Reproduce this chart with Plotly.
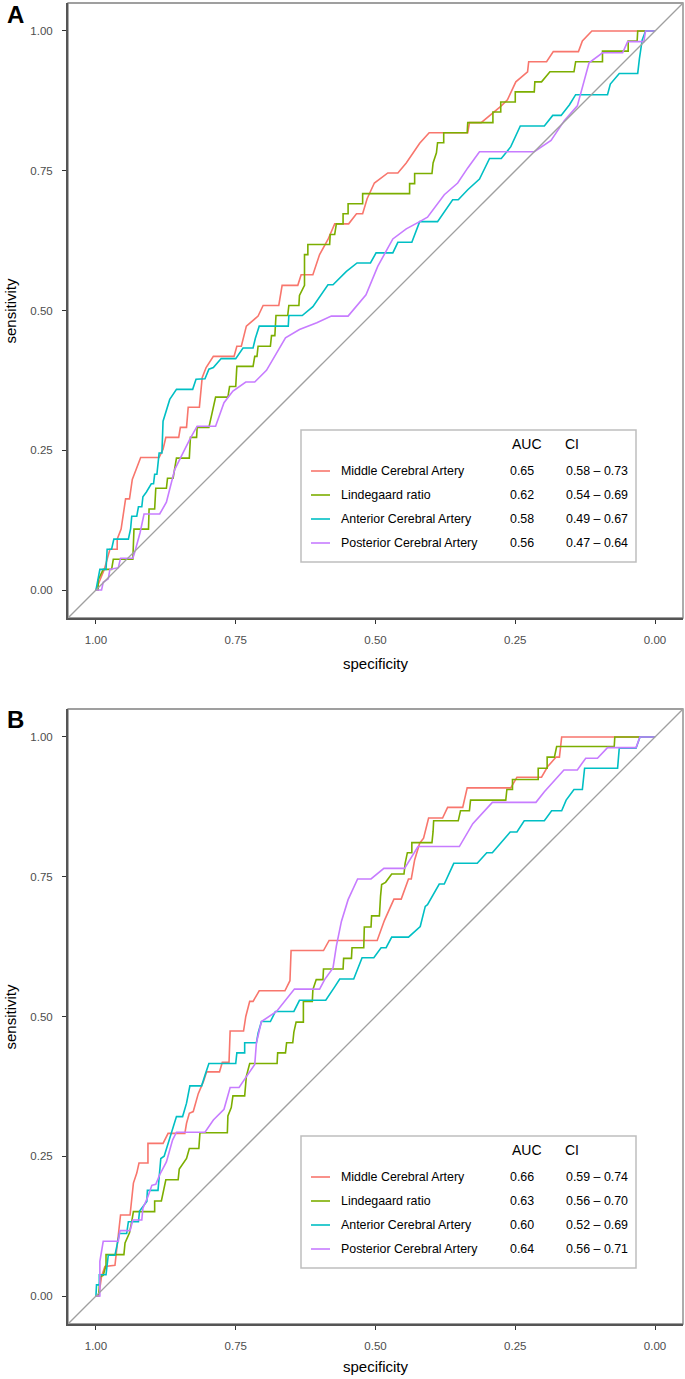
import plotly.graph_objects as go

W, H = 685, 1379

curve_names = ["Middle Cerebral Artery", "Lindegaard ratio",
               "Anterior Cerebral Artery", "Posterior Cerebral Artery"]
curve_colors = ["#F8766D", "#7CAE00", "#00BFC4", "#C77CFF"]

# ---------------- Panel A : (specificity, sensitivity) ----------------
a_mca = [(1.000,0.000),(0.985,0.037),(0.980,0.055),(0.975,0.073),(0.962,0.073),(0.962,0.091),
         (0.955,0.109),(0.950,0.145),(0.947,0.163),(0.940,0.163),(0.935,0.198),(0.928,0.216),
         (0.920,0.237),(0.887,0.237),(0.880,0.252),(0.875,0.273),(0.852,0.273),(0.849,0.291),
         (0.838,0.291),(0.835,0.327),(0.815,0.327),(0.810,0.380),(0.803,0.398),(0.790,0.418),
         (0.753,0.418),(0.748,0.436),(0.740,0.436),(0.731,0.472),(0.710,0.490),(0.701,0.509),
         (0.673,0.509),(0.667,0.545),(0.639,0.545),(0.633,0.564),(0.612,0.564),(0.600,0.600),
         (0.585,0.627),(0.573,0.655),(0.548,0.655),(0.534,0.673),(0.523,0.673),(0.515,0.700),
         (0.502,0.728),(0.478,0.746),(0.460,0.746),(0.445,0.764),(0.421,0.799),(0.404,0.818),
         (0.335,0.818),(0.332,0.836),(0.311,0.836),(0.276,0.865),(0.264,0.877),(0.249,0.909),
         (0.228,0.927),(0.226,0.945),(0.194,0.945),(0.182,0.963),(0.137,0.963),(0.130,0.982),
         (0.113,1.000),(0.000,1.000)]
a_lr = [(1.000,0.000),(0.996,0.000),(0.996,0.018),(0.987,0.037),(0.972,0.037),(0.969,0.055),
        (0.934,0.055),(0.932,0.109),(0.906,0.109),(0.905,0.145),(0.895,0.145),(0.893,0.182),
        (0.874,0.182),(0.872,0.200),(0.862,0.200),(0.859,0.218),(0.856,0.236),(0.833,0.236),
        (0.831,0.273),(0.820,0.273),(0.819,0.291),(0.798,0.291),(0.790,0.327),(0.786,0.345),
        (0.764,0.345),(0.761,0.364),(0.750,0.364),(0.748,0.400),(0.719,0.400),(0.716,0.418),
        (0.712,0.418),(0.710,0.436),(0.688,0.436),(0.686,0.455),(0.680,0.455),(0.678,0.491),
        (0.657,0.491),(0.655,0.509),(0.637,0.509),(0.636,0.527),(0.627,0.545),(0.627,0.600),
        (0.621,0.600),(0.621,0.618),(0.582,0.618),(0.581,0.636),(0.573,0.636),(0.570,0.655),
        (0.558,0.655),(0.558,0.673),(0.549,0.673),(0.549,0.691),(0.523,0.691),(0.523,0.709),
        (0.439,0.709),(0.439,0.727),(0.430,0.727),(0.430,0.745),(0.399,0.745),(0.397,0.764),
        (0.391,0.782),(0.389,0.800),(0.378,0.800),(0.378,0.818),(0.336,0.818),(0.335,0.836),
        (0.290,0.836),(0.290,0.855),(0.276,0.855),(0.276,0.873),(0.250,0.873),(0.250,0.891),
        (0.216,0.891),(0.215,0.909),(0.203,0.909),(0.188,0.927),(0.145,0.927),(0.142,0.945),
        (0.094,0.945),(0.094,0.964),(0.048,0.964),(0.048,0.982),(0.032,0.982),(0.031,1.000),
        (0.000,1.000)]
a_aca = [(1.000,0.000),(0.993,0.037),(0.982,0.037),(0.980,0.073),(0.972,0.073),(0.968,0.091),
         (0.942,0.091),(0.938,0.110),(0.936,0.132),(0.927,0.132),(0.924,0.149),(0.918,0.149),
         (0.916,0.167),(0.910,0.175),(0.901,0.190),(0.897,0.190),(0.895,0.207),(0.891,0.207),
         (0.887,0.245),(0.882,0.245),(0.880,0.302),(0.875,0.320),(0.868,0.341),(0.856,0.359),
         (0.827,0.359),(0.821,0.377),(0.805,0.378),(0.798,0.395),(0.790,0.398),(0.776,0.414),
         (0.750,0.414),(0.737,0.433),(0.719,0.433),(0.715,0.450),(0.708,0.472),(0.656,0.472),
         (0.655,0.491),(0.631,0.491),(0.612,0.507),(0.585,0.546),(0.576,0.546),(0.552,0.570),
         (0.533,0.585),(0.509,0.585),(0.499,0.603),(0.469,0.603),(0.460,0.622),(0.435,0.622),
         (0.421,0.659),(0.389,0.659),(0.362,0.698),(0.352,0.698),(0.335,0.716),(0.314,0.735),
         (0.296,0.772),(0.275,0.772),(0.258,0.793),(0.241,0.830),(0.198,0.830),(0.183,0.849),
         (0.168,0.849),(0.153,0.868),(0.142,0.886),(0.085,0.886),(0.080,0.905),(0.064,0.924),
         (0.031,0.924),(0.028,0.950),(0.023,0.984),(0.017,1.000),(0.000,1.000)]
a_pca = [(1.000,0.000),(0.990,0.000),(0.987,0.014),(0.978,0.020),(0.975,0.037),(0.960,0.040),
         (0.956,0.057),(0.934,0.057),(0.930,0.070),(0.921,0.103),(0.914,0.136),(0.886,0.136),
         (0.874,0.157),(0.866,0.190),(0.859,0.216),(0.847,0.240),(0.832,0.270),(0.819,0.293),
         (0.786,0.293),(0.771,0.335),(0.755,0.356),(0.732,0.372),(0.716,0.372),(0.695,0.393),
         (0.677,0.423),(0.661,0.451),(0.636,0.466),(0.605,0.478),(0.579,0.490),(0.549,0.490),
         (0.517,0.528),(0.496,0.579),(0.469,0.628),(0.445,0.646),(0.421,0.659),(0.407,0.667),
         (0.377,0.707),(0.353,0.728),(0.335,0.755),(0.314,0.784),(0.216,0.784),(0.186,0.804),
         (0.162,0.840),(0.139,0.866),(0.118,0.943),(0.094,0.961),(0.058,0.961),(0.049,0.981),
         (0.020,0.981),(0.017,1.000),(0.000,1.000)]

# ---------------- Panel B ----------------
b_mca = [(1.000,0.000),(0.995,0.000),(0.990,0.035),(0.984,0.053),(0.966,0.055),(0.964,0.073),
         (0.962,0.092),(0.959,0.120),(0.956,0.145),(0.939,0.145),(0.936,0.180),(0.933,0.202),
         (0.927,0.220),(0.923,0.238),(0.907,0.238),(0.907,0.273),(0.880,0.273),(0.871,0.291),
         (0.841,0.291),(0.838,0.309),(0.833,0.327),(0.826,0.330),(0.817,0.362),(0.808,0.383),
         (0.802,0.401),(0.779,0.401),(0.774,0.418),(0.762,0.418),(0.760,0.474),(0.736,0.474),
         (0.732,0.500),(0.725,0.527),(0.719,0.527),(0.708,0.546),(0.662,0.546),(0.653,0.564),
         (0.651,0.618),(0.593,0.618),(0.583,0.636),(0.497,0.636),(0.484,0.672),(0.467,0.710),
         (0.454,0.710),(0.446,0.730),(0.441,0.746),(0.436,0.746),(0.430,0.780),(0.421,0.810),
         (0.414,0.819),(0.405,0.855),(0.380,0.855),(0.371,0.874),(0.344,0.874),(0.336,0.909),
         (0.258,0.909),(0.247,0.928),(0.203,0.928),(0.192,0.947),(0.177,0.964),(0.171,0.964),
         (0.167,1.000),(0.000,1.000)]
b_lr = [(1.000,0.000),(0.995,0.000),(0.994,0.018),(0.992,0.035),(0.987,0.037),(0.982,0.055),
        (0.982,0.074),(0.950,0.074),(0.948,0.095),(0.940,0.113),(0.936,0.133),(0.933,0.151),
        (0.895,0.151),(0.895,0.170),(0.883,0.170),(0.880,0.187),(0.875,0.208),(0.853,0.208),
        (0.851,0.227),(0.838,0.246),(0.833,0.264),(0.816,0.264),(0.814,0.292),(0.765,0.292),
        (0.764,0.322),(0.758,0.337),(0.755,0.358),(0.734,0.358),(0.731,0.393),(0.725,0.416),
        (0.676,0.416),(0.675,0.435),(0.661,0.435),(0.659,0.453),(0.648,0.453),(0.646,0.472),
        (0.642,0.490),(0.629,0.490),(0.629,0.527),(0.613,0.527),(0.612,0.548),(0.606,0.566),
        (0.594,0.566),(0.593,0.585),(0.558,0.585),(0.557,0.604),(0.543,0.604),(0.542,0.623),
        (0.521,0.623),(0.520,0.660),(0.508,0.660),(0.507,0.680),(0.493,0.680),(0.491,0.715),
        (0.489,0.736),(0.482,0.740),(0.471,0.755),(0.449,0.755),(0.447,0.774),(0.443,0.793),
        (0.435,0.793),(0.435,0.811),(0.399,0.811),(0.397,0.831),(0.396,0.850),(0.352,0.850),
        (0.348,0.868),(0.332,0.868),(0.330,0.887),(0.267,0.887),(0.265,0.906),(0.255,0.906),
        (0.255,0.924),(0.209,0.924),(0.209,0.944),(0.193,0.944),(0.193,0.964),(0.180,0.964),
        (0.176,0.983),(0.073,0.983),(0.072,1.000),(0.000,1.000)]
b_aca = [(1.000,0.000),(0.999,0.020),(0.994,0.020),(0.994,0.038),(0.982,0.038),(0.978,0.073),
         (0.966,0.073),(0.962,0.095),(0.958,0.112),(0.945,0.112),(0.942,0.133),(0.924,0.133),
         (0.922,0.152),(0.909,0.169),(0.908,0.189),(0.889,0.189),(0.884,0.246),(0.878,0.250),
         (0.868,0.282),(0.856,0.321),(0.845,0.321),(0.838,0.345),(0.832,0.376),(0.811,0.376),
         (0.805,0.395),(0.798,0.416),(0.750,0.416),(0.748,0.435),(0.734,0.435),(0.734,0.453),
         (0.713,0.453),(0.710,0.470),(0.704,0.491),(0.688,0.491),(0.679,0.509),(0.646,0.509),
         (0.636,0.529),(0.589,0.529),(0.573,0.553),(0.564,0.567),(0.539,0.567),(0.524,0.605),
         (0.503,0.605),(0.490,0.623),(0.481,0.623),(0.471,0.642),(0.441,0.642),(0.420,0.661),
         (0.411,0.697),(0.407,0.700),(0.386,0.737),(0.377,0.737),(0.360,0.774),(0.318,0.774),
         (0.301,0.793),(0.291,0.793),(0.259,0.830),(0.247,0.830),(0.234,0.850),(0.198,0.850),
         (0.185,0.868),(0.167,0.868),(0.159,0.887),(0.145,0.906),(0.130,0.906),(0.126,0.944),
         (0.067,0.944),(0.064,0.980),(0.034,0.980),(0.027,1.000),(0.000,1.000)]
b_pca = [(1.000,0.000),(0.993,0.000),(0.993,0.062),(0.990,0.080),(0.987,0.098),(0.960,0.098),
         (0.957,0.117),(0.939,0.117),(0.934,0.136),(0.918,0.136),(0.916,0.157),(0.907,0.178),
         (0.900,0.198),(0.893,0.200),(0.886,0.217),(0.874,0.240),(0.868,0.260),(0.863,0.279),
         (0.856,0.293),(0.805,0.293),(0.790,0.315),(0.771,0.334),(0.760,0.373),(0.744,0.373),
         (0.734,0.388),(0.716,0.414),(0.713,0.453),(0.704,0.491),(0.677,0.509),(0.645,0.549),
         (0.600,0.549),(0.591,0.566),(0.576,0.587),(0.570,0.626),(0.561,0.670),(0.549,0.709),
         (0.532,0.746),(0.508,0.746),(0.485,0.765),(0.448,0.765),(0.424,0.804),(0.350,0.804),
         (0.326,0.845),(0.291,0.883),(0.213,0.883),(0.198,0.902),(0.163,0.941),(0.139,0.941),
         (0.124,0.962),(0.103,0.962),(0.085,0.981),(0.034,0.981),(0.027,1.000),(0.000,1.000)]

auc_a = ["0.65", "0.62", "0.58", "0.56"]
ci_a = ["0.58 \u2013 0.73", "0.54 \u2013 0.69", "0.49 \u2013 0.67", "0.47 \u2013 0.64"]
auc_b = ["0.66", "0.63", "0.60", "0.64"]
ci_b = ["0.59 \u2013 0.74", "0.56 \u2013 0.70", "0.52 \u2013 0.69", "0.56 \u2013 0.71"]

tick_vals = [0.0, 0.25, 0.5, 0.75, 1.0]
tick_text = ["0.00", "0.25", "0.50", "0.75", "1.00"]
X_RANGE = [1.05, -0.05]
Y_RANGE = [-0.05, 1.05]

FONT = "Liberation Sans, Arial, Helvetica, sans-serif"

panels = [
    dict(curves=[a_mca, a_lr, a_aca, a_pca], auc=auc_a, ci=ci_a, letter="A",
         top=3, bottom=618, letter_y=14, title_y=663, legend_top=430),
    dict(curves=[b_mca, b_lr, b_aca, b_pca], auc=auc_b, ci=ci_b, letter="B",
         top=709, bottom=1324, letter_y=720, title_y=1366, legend_top=1136),
]

PLOT_L, PLOT_R = 68, 683


def px(x):
    return x / W


def py(y):
    return 1 - y / H


fig = go.Figure()
annotations = []
shapes = []

for i, p in enumerate(panels):
    sfx = "" if i == 0 else str(i + 1)
    xa, ya = "x" + sfx, "y" + sfx
    for curve, name, col in zip(p["curves"], curve_names, curve_colors):
        fig.add_trace(go.Scatter(
            x=[c[0] for c in curve], y=[c[1] for c in curve], mode="lines",
            line=dict(color=col, width=1.6), name=name, showlegend=False,
            xaxis=xa, yaxis=ya, hoverinfo="skip"))
    # chance diagonal across the full panel
    fig.add_trace(go.Scatter(
        x=X_RANGE, y=[1 - v for v in X_RANGE], mode="lines",
        line=dict(color="#A0A0A0", width=1.3), showlegend=False,
        xaxis=xa, yaxis=ya, hoverinfo="skip"))

    axis_common = dict(
        showline=True, linecolor="#555555", linewidth=1.9, mirror=False,
        ticks="outside", ticklen=4, tickwidth=1.1, tickcolor="#333333",
        tickvals=tick_vals, ticktext=tick_text,
        tickfont=dict(family=FONT, size=11.5, color="#4D4D4D"),
        showgrid=False, zeroline=False, fixedrange=True)
    fig.layout["xaxis" + sfx] = dict(
        axis_common, range=X_RANGE, domain=[px(PLOT_L), px(PLOT_R)],
        anchor=ya, ticklabelstandoff=6)
    fig.layout["yaxis" + sfx] = dict(
        axis_common, range=Y_RANGE, domain=[py(p["bottom"]), py(p["top"])],
        anchor=xa, ticklabelstandoff=7)

    # lighter panel border (top / right)
    shapes.append(dict(type="rect", xref=xa + " domain", yref=ya + " domain",
                       x0=0, x1=1, y0=0, y1=1,
                       line=dict(color="#808080", width=1.3), layer="below"))

    # panel letter
    annotations.append(dict(
        x=px(15), y=py(p["letter_y"]), xref="paper", yref="paper",
        text="<b>%s</b>" % p["letter"], showarrow=False,
        font=dict(family=FONT, size=24, color="black"),
        xanchor="center", yanchor="middle"))
    # axis titles
    mid_y = (p["top"] + p["bottom"]) / 2
    annotations.append(dict(
        x=px(10), y=py(mid_y), xref="paper", yref="paper", text="sensitivity",
        textangle=-90, showarrow=False, font=dict(family=FONT, size=15, color="black"),
        xanchor="center", yanchor="middle"))
    annotations.append(dict(
        x=px(376), y=py(p["title_y"]), xref="paper", yref="paper", text="specificity",
        showarrow=False, font=dict(family=FONT, size=15, color="black"),
        xanchor="center", yanchor="middle"))

    # custom legend box
    lt = p["legend_top"]
    shapes.append(dict(type="rect", xref="paper", yref="paper",
                       x0=px(301), x1=px(636), y0=py(lt), y1=py(lt + 132),
                       line=dict(color="#BEBEBE", width=1.5), fillcolor="white",
                       layer="above"))
    annotations.append(dict(
        x=px(527), y=py(lt + 14), xref="paper", yref="paper", text="AUC",
        showarrow=False, font=dict(family=FONT, size=14, color="black"),
        xanchor="center", yanchor="middle"))
    annotations.append(dict(
        x=px(563), y=py(lt + 14), xref="paper", yref="paper", text="CI",
        showarrow=False, font=dict(family=FONT, size=14, color="black"),
        xanchor="left", yanchor="middle"))
    for k, (name, col, auc, ci) in enumerate(zip(curve_names, curve_colors, p["auc"], p["ci"])):
        ry = lt + 41 + 24 * k
        shapes.append(dict(type="line", xref="paper", yref="paper",
                           x0=px(311), x1=px(330), y0=py(ry), y1=py(ry),
                           line=dict(color=col, width=1.6), layer="above"))
        annotations.append(dict(
            x=px(339), y=py(ry), xref="paper", yref="paper", text=name,
            showarrow=False, font=dict(family=FONT, size=12.4, color="black"),
            xanchor="left", yanchor="middle"))
        annotations.append(dict(
            x=px(522), y=py(ry), xref="paper", yref="paper", text=auc,
            showarrow=False, font=dict(family=FONT, size=12.4, color="black"),
            xanchor="center", yanchor="middle"))
        annotations.append(dict(
            x=px(597), y=py(ry), xref="paper", yref="paper", text=ci,
            showarrow=False, font=dict(family=FONT, size=12.4, color="black"),
            xanchor="center", yanchor="middle"))

fig.update_layout(
    width=W, height=H, autosize=False,
    margin=dict(l=0, r=0, t=0, b=0, pad=0),
    paper_bgcolor="white", plot_bgcolor="white",
    annotations=annotations, shapes=shapes,
    font=dict(family=FONT),
)

# remove the browser's default 8px body margin so the figure fills the window exactly
fig.write_html("out.html", config={"displayModeBar": False},
               post_script="document.body.style.margin='0';"
                           "document.body.style.overflow='hidden';")
